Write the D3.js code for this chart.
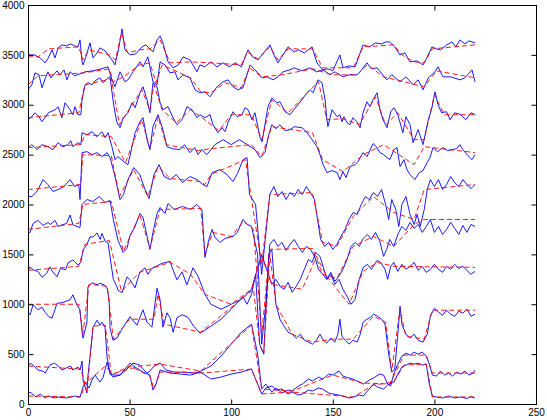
<!DOCTYPE html>
<html><head><meta charset="utf-8">
<script src="https://cdn.jsdelivr.net/npm/d3@7"></script>
<style>body{margin:0;background:#fff}svg{display:block}text{font-family:"Liberation Sans",Arial,sans-serif;font-size:10px;fill:#000}</style>
</head><body><svg id="c" width="547" height="420"></svg>
<script>
const trace1=[[0,3500],[3,3500],[6,3470],[8.4,3420],[10,3470],[11.8,3550],[13.3,3470],[14.8,3570],[16.7,3600],[19,3590],[21,3610],[23,3590],[24.6,3580],[25.6,3650],[26.6,3430],[27.1,3400],[28.5,3480],[30.5,3620],[32,3470],[34,3520],[35.4,3570],[38,3540],[41.3,3450],[42.8,3400],[44.5,3550],[46.3,3760],[47.7,3550],[50.2,3500],[53,3510],[56.1,3580],[58,3600],[61.5,3530],[63.5,3650],[65,3690],[66.4,3620],[68.9,3430],[71.4,3370],[74,3400],[76.3,3480],[79.7,3450],[83.2,3330],[84.6,3400],[87,3380],[90,3430],[93,3380],[96,3420],[99,3380],[102,3420],[105,3380],[108.3,3550],[110.5,3480],[113.2,3450],[116,3520],[119.1,3600],[121,3500],[123,3420],[125.5,3500],[128,3580],[131,3530],[133,3550],[136,3520],[139.8,3580],[142.2,3420],[145,3350],[147.6,3360],[150,3340],[153.5,3500],[155,3370],[158,3390],[161,3380],[164.9,3600],[168,3580],[171,3620],[174,3610],[176,3630],[178,3630],[180.5,3580],[183,3500],[185.5,3520],[188,3430],[191.4,3440],[194.4,3400],[196.5,3480],[198.8,3580],[201,3560],[203,3550],[206,3600],[208.7,3630],[210.5,3580],[212.6,3650],[215,3610],[217,3640],[220,3620]];
const trace2=[[0,3150],[1.9,3200],[3.4,3320],[5.4,3300],[6.9,3170],[8.4,3260],[9.8,3330],[11.3,3270],[14.3,3340],[15.8,3300],[17.7,3350],[19.2,3250],[20.7,3330],[23,3290],[25.6,3310],[28.1,3330],[32,3340],[36,3360],[39.4,3380],[41.3,3250],[42.8,3180],[45.3,3330],[47.7,3230],[49.2,3250],[51.7,3330],[55.1,3430],[56.6,3380],[59,3480],[61.5,3230],[63.5,3200],[65,3430],[67.4,3400],[69.9,3320],[72.3,3330],[73.8,3250],[76.3,3300],[79.7,3270],[82.2,3150],[84.6,3120],[87.1,3130],[89.6,3080],[93,3180],[96,3230],[98.4,3250],[100.9,3180],[103.3,3150],[105.8,3170],[109.3,3400],[111.7,3350],[115.2,3270],[117.6,3280],[120.6,3250],[123,3280],[125.5,3330],[128.9,3350],[131,3370],[134.8,3340],[138.8,3370],[142,3330],[145.2,3350],[148.6,3300],[151,3330],[155,3280],[158,3300],[161.9,3300],[163.4,3330],[166.8,3420],[169,3360],[171.8,3370],[175.7,3270],[176.7,3250],[179,3300],[183.1,3230],[186,3280],[189.5,3200],[192,3250],[194.4,3150],[197,3270],[200.3,3330],[201.8,3380],[204.2,3280],[208,3280],[212.6,3250],[215,3270],[218.5,3350],[220,3230]];
const trace3=[[0,2850],[1.9,2880],[3.4,2920],[5.4,2880],[6.9,2830],[10,2920],[13.3,2950],[14.8,2980],[16.7,2870],[18.2,3020],[20.7,2950],[22.1,2900],[23.1,2980],[24.6,2900],[26,2900],[26.6,3050],[28.1,3200],[29.6,3220],[31.5,3200],[33,3240],[35.4,3270],[37,3220],[38.9,3260],[40.4,3280],[41.8,3050],[42.8,2920],[43.8,2820],[45.3,2770],[46.8,2870],[49.2,2920],[51.2,3020],[52.7,2970],[55.1,3120],[56.6,3180],[58.6,3050],[60,2920],[61.5,3220],[63.5,3180],[65,3020],[66.4,2950],[68.9,2980],[71.4,2870],[73.3,2800],[75.8,2850],[78.2,2980],[80.7,2950],[83.2,2870],[84.6,2900],[87.1,2870],[89.6,2900],[91,2800],[93.5,2720],[95.5,2770],[97,2730],[98.4,2820],[100.9,2930],[102.9,2880],[105.3,2900],[106.8,2970],[108.3,2950],[110.2,2850],[111.7,2920],[114.2,2670],[115.2,2630],[116.6,2800],[118.1,2980],[120.1,3070],[122.5,3020],[124,3030],[126.5,2930],[128.9,2900],[132,2980],[134.8,3050],[137.3,3120],[138.8,3150],[140.3,3120],[142.7,3250],[144.7,3220],[146.2,3050],[147.1,2850],[147.6,2780],[149.6,2950],[152.1,2880],[153.5,2900],[154.5,2830],[155.5,2880],[157,2820],[158.5,2800],[159.9,2870],[161.9,2830],[163.4,2770],[164.9,2920],[166.8,3030],[168.3,2980],[169.8,3050],[171.8,3120],[173.2,2950],[174.7,2850],[176.7,2770],[178.5,2930],[180.1,2970],[182,2900],[184.5,2720],[186,2880],[188,2800],[189.5,2620],[192,2750],[194.4,2600],[197,2850],[198.8,2970],[200.3,3130],[201.8,3000],[203.5,2920],[206,2930],[207.7,2850],[210,2920],[213,2900],[215.5,2850],[218,2920],[220,2900]];
const trace4=[[0,2570],[1.9,2600],[4.4,2550],[6.9,2600],[9.8,2580],[12.3,2550],[14.8,2620],[17.2,2580],[19.7,2600],[21,2640],[22.1,2580],[24.6,2620],[26,2600],[26.6,2720],[29,2700],[31.5,2730],[34,2680],[36.4,2730],[37.9,2670],[39.4,2720],[41.3,2580],[42.8,2450],[44.3,2480],[47.7,2420],[49.2,2400],[51.2,2580],[52.7,2720],[55.1,2830],[56.6,2870],[58.6,2650],[60,2550],[61.5,2780],[64,2900],[66.4,2750],[68.4,2580],[71,2560],[74.8,2550],[77,2600],[79.7,2520],[82,2570],[83.7,2500],[85.6,2550],[88,2500],[92,2600],[96,2650],[100,2600],[104,2650],[108,2600],[111.7,2550],[114.2,2470],[116.6,2520],[118.5,2700],[120,2800],[122,2760],[124,2800],[126.5,2740],[128.9,2750],[131,2780],[134.8,2770],[137,2730],[139.8,2650],[142.2,2580],[143.7,2500],[145.2,2400],[147.1,2320],[149.6,2340],[152.1,2320],[153.5,2250],[155,2330],[156.5,2270],[158.5,2380],[161,2400],[162.4,2430],[164.9,2520],[166.8,2480],[169.8,2610],[171,2590],[173.2,2520],[175,2500],[176.7,2470],[178.1,2450],[180.1,2550],[181.6,2570],[183.1,2380],[185,2450],[186.5,2350],[188,2300],[190.4,2250],[192.5,2320],[194.4,2340],[196.4,2420],[197.8,2470],[199.3,2570],[201.5,2530],[204.2,2570],[206.5,2540],[208.7,2550],[211,2560],[212.6,2600],[214,2550],[216.5,2490],[218.5,2450],[220,2500]];
const trace5=[[0,2080],[1.9,2080],[4.4,2130],[7.4,2250],[9.8,2200],[12.3,2130],[14.8,2150],[17.7,2180],[20.7,2250],[23,2180],[25,2200],[25.6,2050],[26.6,2520],[29,2530],[31.5,2500],[34,2520],[36.5,2480],[38.9,2520],[40.4,2470],[42.8,2280],[45.3,2050],[47,2100],[49.2,2250],[52,2370],[55,2300],[57.6,2150],[59.6,2060],[62,2300],[64.5,2400],[67,2280],[70,2250],[73,2300],[76,2220],[79.7,2280],[83.2,2250],[86,2200],[88.1,2180],[90.6,2320],[94.5,2350],[97.9,2300],[100.9,2230],[103.3,2320],[105.8,2450],[107.8,2470],[109,2100],[112,2000],[115,1300],[117,1700],[119,2100],[121,2180],[123,2080],[125,2130],[127,2050],[129,2120],[131,2080],[133,2150],[135,2100],[137,2180],[139,2120],[141,2050],[142.5,1850],[144,1650],[146,1580],[148,1620],[150,1550],[152,1600],[154,1680],[156,1750],[158,1850],[160,1920],[162,1900],[164,2000],[166,2080],[168,2050],[170,2120],[172,2080],[174,2150],[176,2000],[177.5,1850],[179,2050],[181,1950],[182.5,1780],[184,2000],[186,2080],[188,1900],[190,1800],[191.5,1900],[193,1780],[195,1950],[196.5,2150],[198,2250],[200,2180],[202,2250],[204,2150],[206,2200],[208,2280],[210,2220],[212,2180],[214,2250],[216,2200],[218,2160],[220,2200]];
const trace6=[[0,1720],[1,1720],[2.5,1810],[4.9,1840],[7.4,1790],[9.8,1820],[11,1800],[13.3,1840],[14.8,1780],[16.7,1795],[19,1810],[20.7,1895],[22.1,1795],[24.6,1775],[25.6,1770],[26.6,2000],[29,2050],[32,2030],[35,2080],[38,2020],[40.4,2040],[42,1850],[44.3,1640],[46.8,1520],[48.7,1560],[50.2,1690],[52.7,1780],[55.1,1910],[56.6,1870],[58.6,1680],[60,1550],[61.5,1720],[63.5,1910],[65,1970],[67.4,1910],[68.9,2010],[72,1950],[76,1980],[80,1950],[83,2000],[85.6,1950],[87.1,1470],[89,1650],[90.6,1750],[92,1670],[94.5,1620],[97,1660],[100.9,1680],[103,1720],[105.8,1850],[108,1800],[110,1780],[113,1500],[115,600],[117,1000],[119,1600],[121,1650],[123,1580],[125,1620],[127,1540],[129,1600],[131,1650],[133,1580],[135,1520],[137,1580],[139,1550],[141,1480],[143,1350],[145,1300],[147,1250],[149,1320],[151,1230],[153,1280],[155,1350],[157,1450],[159,1580],[161,1620],[163,1580],[165,1660],[167,1700],[169,1650],[171,1720],[173,1640],[175,1480],[176.5,1550],[178,1650],[180,1580],[182,1700],[184,1780],[186,1740],[188,1820],[190,1760],[192,1800],[194,1720],[196,1780],[198,1850],[200,1720],[202,1780],[204,1700],[206,1750],[208,1820],[210,1760],[212,1700],[214,1790],[216,1720],[218,1800],[220,1780]];
const trace7=[[0,1330],[1,1375],[2.5,1345],[4.9,1330],[6.9,1270],[9.2,1310],[10.8,1375],[12,1330],[14.3,1275],[16,1360],[18.5,1345],[19.7,1415],[22.1,1445],[24.6,1395],[26,1420],[27.1,1545],[29,1600],[30.5,1675],[32,1675],[34,1715],[35.5,1650],[36.4,1710],[38,1630],[39.4,1615],[41.3,1345],[42,1250],[43.8,1175],[44.3,1140],[46.3,1115],[48.7,1275],[50,1250],[52.7,1165],[55.1,1325],[57.6,1365],[59,1300],[61,1360],[63.5,1385],[66,1410],[69.9,1430],[71,1365],[73.3,1245],[75.8,1325],[78.2,1195],[81.2,1365],[83.7,1280],[87.1,1100],[90,1000],[95,950],[100,1000],[105,1050],[110,1150],[115,1500],[120,1200],[122,1250],[124,1180],[126,1150],[128,1220],[130,1120],[132,1180],[134,1250],[136,1350],[138,1450],[139.8,1420],[141.5,1520],[143.7,1480],[145.2,1380],[147.1,1250],[149,1300],[151,1200],[153,1250],[155,1150],[157,1080],[159,1000],[161,1050],[163,1250],[165,1370],[167,1400],[169,1350],[171.8,1440],[173.5,1420],[175.7,1350],[177,1250],[178.5,1380],[180,1420],[182,1330],[184,1400],[186,1350],[188,1380],[190,1420],[192,1340],[194,1380],[196,1320],[198,1350],[200,1400],[202,1350],[204,1320],[206,1380],[208,1350],[210,1400],[212,1360],[214,1380],[216,1340],[218,1300],[220,1330]];
const trace8=[[0,920],[1,895],[2.5,995],[4.9,945],[6.9,970],[8.4,920],[10.3,875],[11.8,860],[14.3,1010],[16.7,1015],[20.7,1045],[22.1,1095],[24.1,990],[25.6,945],[26.6,720],[27.1,660],[29,820],[29.5,1175],[31.5,1215],[34,1195],[35.4,1210],[37.4,1195],[38.9,1165],[39.9,1050],[40.4,760],[41.8,640],[43.8,660],[46.8,770],[50.2,875],[53.6,790],[56.6,945],[58.6,820],[61,770],[63.5,1160],[65,1045],[66.4,770],[68.4,915],[69.9,865],[71.4,720],[73.3,865],[75.8,895],[78.7,870],[81.2,790],[84.6,710],[87.1,740],[90,780],[95,850],[100,950],[104.3,1045],[105.8,1075],[107.8,1000],[110,1100],[112,1300],[114,600],[116,500],[118.5,1500],[120,1550],[122,1000],[124,850],[126,780],[128,720],[130,700],[132,660],[134,700],[136,640],[138,620],[140,600],[142,640],[143.7,700],[145,650],[147,610],[149,660],[151,620],[152.5,700],[153.5,850],[154.5,680],[156,640],[158,600],[160,640],[162,620],[163.5,700],[164.9,820],[166.8,850],[168.5,870],[170,900],[172,880],[174,850],[175.7,800],[177.5,500],[179,320],[180.5,350],[182,700],[183.1,980],[184,800],[186,700],[188,660],[190,700],[192,640],[194.4,620],[196.5,700],[198,880],[200,960],[202,920],[204,890],[206,940],[208,900],[210,880],[212,930],[214,910],[216,950],[218,880],[220,900]];
const trace9=[[0,370],[1,410],[3,380],[4.9,340],[7.4,330],[8.4,310],[10.8,390],[13,410],[15,380],[16.7,340],[19.7,370],[21,380],[22.1,340],[24.6,370],[25.6,340],[26.6,430],[27.1,240],[29,110],[29.5,280],[30.5,470],[32,770],[34,840],[35.4,790],[36.4,820],[37.9,770],[38.9,470],[40.4,310],[41.8,270],[45.3,290],[49.2,360],[51.7,410],[55.1,390],[56.6,350],[58.6,310],[60,330],[62,380],[65,410],[68,340],[72,320],[77,320],[82,310],[85,330],[90,380],[95,480],[100,600],[105,720],[110,800],[113,500],[115,150],[117,200],[120,120],[122,160],[125,110],[128,140],[130,130],[133,180],[135,200],[138,250],[140,230],[143,270],[145,250],[148,300],[150,290],[153,330],[155,280],[158,260],[160,250],[163,220],[165,200],[168,240],[170,260],[173,300],[175,290],[177,200],[178.5,180],[180,300],[182,400],[184,480],[186,510],[188,490],[190,520],[192,500],[194,520],[196,480],[197.5,400],[199,290],[201,280],[203,330],[205,290],[207,310],[209,280],[211,320],[213,300],[215,330],[217,290],[219,310],[220,340]];
const trace10=[[0,100],[1,120],[4,70],[6,100],[8.4,60],[10,80],[13,60],[15,70],[19,60],[23,80],[25.6,70],[27.1,170],[28.1,220],[30,160],[31.5,240],[33,290],[35.4,220],[37,270],[38.9,420],[40.4,300],[42,290],[45.3,290],[50.2,410],[52.7,370],[56.6,320],[60,290],[61.5,140],[63,200],[65,340],[70,310],[75,300],[80,290],[85,320],[90,250],[95,270],[100,300],[105,320],[110,350],[113,200],[115,100],[117,160],[120,180],[122,140],[125,150],[128,100],[130,120],[133,90],[135,100],[138,140],[140,130],[143,160],[145,150],[148,110],[150,100],[153,90],[155,80],[158,60],[160,70],[163,90],[165,80],[167,130],[170,200],[172,170],[175,150],[177,190],[180,220],[182,300],[184,370],[186,390],[188,410],[190,400],[192,410],[194,390],[196,400],[197.5,200],[199,80],[201,70],[204,60],[207,80],[210,60],[213,70],[216,55],[218,75],[220,60]];

// red dashed fitted curves: [x, value] knots
const fit1=[[0,3480],[5,3480],[10,3560],[25,3580],[27,3450],[30,3550],[40,3500],[43,3450],[46,3720],[49,3520],[55,3550],[60,3560],[65,3650],[70,3420],[80,3430],[90,3420],[105,3400],[108,3530],[113,3460],[119,3580],[123,3450],[128,3560],[140,3560],[145,3370],[160,3370],[165,3580],[180,3600],[184,3500],[190,3430],[195,3420],[199,3560],[220,3600]];
const fit2=[[0,3200],[5,3290],[28,3320],[40,3360],[42,3230],[47,3280],[55,3400],[60,3420],[63,3220],[66,3400],[80,3270],[85,3130],[90,3120],[97,3220],[105,3170],[109,3370],[115,3280],[125,3300],[140,3360],[150,3300],[162,3300],[167,3400],[175,3280],[195,3180],[201,3340],[220,3270]];
const fit3=[[0,2870],[25,2920],[28,3200],[41,3260],[45,2800],[56,3150],[60,2950],[62,3200],[66,2950],[73,2820],[80,2950],[85,2880],[94,2740],[100,2900],[110,2900],[115,2650],[120,3050],[128,2920],[139,3150],[143,3230],[147,2850],[155,2860],[163,2800],[171,3080],[176,2800],[182,2920],[190,2650],[195,2650],[200,3100],[205,2900],[220,2900]];
const fit4=[[0,2570],[26,2600],[28,2700],[41,2680],[48,2420],[56,2850],[60,2560],[64,2880],[68,2600],[84,2540],[90,2560],[110,2600],[115,2480],[120,2780],[140,2720],[145,2450],[155,2330],[165,2500],[175,2600],[190,2400],[195,2580],[220,2520]];
const fit5=[[0,2150],[26,2200],[27,2500],[41,2490],[45,2080],[52,2350],[59,2080],[64,2380],[70,2260],[85,2230],[87,2200],[90,2300],[107,2450],[110,2050],[115,1400],[119,2100],[140,2120],[145,1620],[152,1580],[160,1880],[170,2080],[180,1920],[190,1850],[195,2150],[220,2200]];
const fit6=[[0,1750],[25,1810],[27,2000],[41,2030],[47,1530],[55,1900],[60,1560],[65,1950],[85,1960],[87,1500],[91,1720],[100,1680],[106,1830],[111,1750],[115,700],[119,1550],[140,1560],[145,1300],[152,1260],[160,1580],[170,1680],[180,1580],[190,1800],[195,1850],[220,1850]];
const fit7=[[0,1340],[25,1380],[28,1600],[40,1640],[46,1130],[55,1320],[70,1420],[80,1300],[87,1100],[100,1000],[110,1150],[115,1480],[120,1200],[135,1150],[142,1480],[147,1280],[158,1000],[165,1330],[172,1420],[180,1380],[220,1370]];
const fit8=[[0,1000],[25,1000],[27,700],[30,1200],[39,1180],[42,650],[50,850],[62,850],[64,1100],[67,800],[85,720],[105,1050],[111,1150],[114,600],[116,500],[119,1500],[122,1000],[130,700],[140,620],[150,650],[160,650],[170,880],[176,820],[179,330],[183,950],[186,680],[195,650],[199,940],[220,940]];
const fit9=[[0,380],[26,350],[29,120],[32,780],[38,790],[41,300],[55,380],[65,400],[85,330],[110,790],[115,150],[130,130],[150,290],[165,210],[178,200],[185,490],[196,490],[199,310],[220,310]];
const fit10=[[0,80],[26,70],[28,200],[38,380],[42,300],[50,380],[60,280],[62,150],[65,320],[85,310],[110,350],[115,100],[130,120],[160,70],[170,190],[180,220],[185,390],[196,400],[199,70],[220,70]];

const traces=[trace1,trace2,trace3,trace4,trace5,trace6,trace7,trace8,trace9,trace10];
const fits=[fit1,fit2,fit3,fit4,fit5,fit6,fit7,fit8,fit9,fit10];
const xTicks=[0,50,100,150,200,250];
const yTicks=[0,500,1000,1500,2000,2500,3000,3500,4000];

const svg=d3.select('#c');
const x=d3.scaleLinear().domain([0,250]).range([28,536]);
const y=d3.scaleLinear().domain([0,4000]).range([404,5]);

svg.append('clipPath').attr('id','pc').append('rect').attr('x',28).attr('y',5).attr('width',508).attr('height',399);
const plot=svg.append('g').attr('clip-path','url(#pc)');

const line=d3.line().x(d=>x(d[0])).y(d=>y(d[1]));

traces.forEach(s=>{
  plot.append('path').attr('d',line(s)).attr('fill','none').attr('stroke','#0000ff').attr('stroke-width',0.9);
});
fits.forEach(s=>{
  plot.append('path').attr('d',line(s)).attr('fill','none').attr('stroke','#ff0000').attr('stroke-width',0.9).attr('stroke-dasharray','5,3');
});

svg.append('rect').attr('x',28.5).attr('y',5.5).attr('width',508).attr('height',399).attr('fill','none').attr('stroke','#000').attr('stroke-width',1);

const ax=svg.append('g').attr('transform','translate(0,404.5)')
  .call(d3.axisBottom(x).tickValues(xTicks).tickSizeInner(-5).tickSizeOuter(0).tickPadding(4).tickFormat(d3.format('d')));
ax.select('.domain').remove();
const axT=svg.append('g').attr('transform','translate(0,5.5)')
  .call(d3.axisTop(x).tickValues(xTicks).tickSizeInner(-5).tickSizeOuter(0).tickFormat(''));
axT.select('.domain').remove();
const ay=svg.append('g').attr('transform','translate(28.5,0)')
  .call(d3.axisLeft(y).tickValues(yTicks).tickSizeInner(-5).tickSizeOuter(0).tickPadding(4).tickFormat(d3.format('d')));
ay.select('.domain').remove();
const ayR=svg.append('g').attr('transform','translate(536.5,0)')
  .call(d3.axisRight(y).tickValues(yTicks).tickSizeInner(-5).tickSizeOuter(0).tickFormat(''));
ayR.select('.domain').remove();
svg.selectAll('.tick text').style('font-family','"Liberation Sans",Arial,sans-serif').style('font-size','10px');
</script></body></html>
